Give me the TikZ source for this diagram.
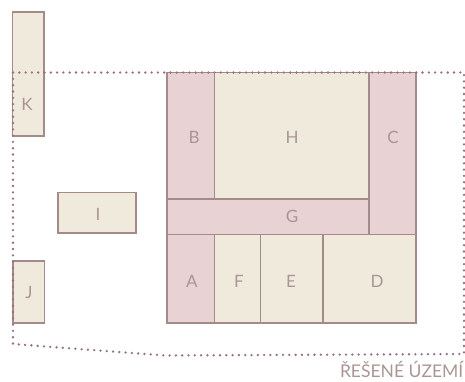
\documentclass[tikz,border=0pt]{standalone}
\usepackage{fontspec}
\setmainfont{Lato}
\definecolor{cream}{HTML}{F0EADD}
\definecolor{rosey}{HTML}{E8D2D3}
\definecolor{edge}{HTML}{A58A8A}
\definecolor{txt}{HTML}{AA9694}
\definecolor{dots}{HTML}{96717A}
\tikzset{
  creambox/.style={draw=edge,fill=cream,line width=1.3pt},
  rosebox/.style={draw=edge,fill=rosey,line width=1.3pt},
  lbl/.style={text=txt,font=\fontsize{17}{19}\selectfont,inner sep=0pt,anchor=center},
  boundary/.style={draw=dots,line width=2.6pt,line cap=round,dash pattern=on 0pt off 6.3pt}
}
\begin{document}
\begin{tikzpicture}[x=1pt,y=-1pt]
\useasboundingbox (0,0) rectangle (465,381);
\draw[creambox] (12.5,12) rectangle (44,136);
\draw[creambox] (58,192.5) rectangle (136,233);
\draw[creambox] (13,261) rectangle (44.5,323);
\draw[rosebox] (167,72.5) rectangle (214.5,199);
\draw[creambox] (214.5,72.5) rectangle (369,199);
\draw[rosebox] (369,72.5) rectangle (416,234.5);
\draw[rosebox] (167,199) rectangle (369,234.5);
\draw[rosebox] (167,234.5) rectangle (214.5,323);
\draw[creambox] (214.5,234.5) rectangle (260.5,323);
\draw[creambox] (260.5,234.5) rectangle (323,323);
\draw[creambox] (323,234.5) rectangle (416,323);
\node[lbl] (K) at (27,104) {K};
\node[lbl] (I) at (98,214) {I};
\node[lbl] (J) at (29,292) {J};
\node[lbl] (B) at (194,137.5) {B};
\node[lbl] (H) at (292,137.5) {H};
\node[lbl] (C) at (393,137.5) {C};
\node[lbl] (G) at (292,216) {G};
\node[lbl] (A) at (192,281.5) {A};
\node[lbl] (F) at (239,281.5) {F};
\node[lbl] (E) at (291,281.5) {E};
\node[lbl] (D) at (377,281.5) {D};
\node[text=txt,font=\fontsize{17.5}{19}\selectfont,inner sep=0pt,anchor=base east] (T) at (463.5,377.5) {ŘEŠENÉ ÚZEMÍ};
\draw[boundary] (13,72.5) -- (464,72.5) -- (464,354) -- (165,355.5) -- (13,344) -- cycle;
\end{tikzpicture}
\end{document}
